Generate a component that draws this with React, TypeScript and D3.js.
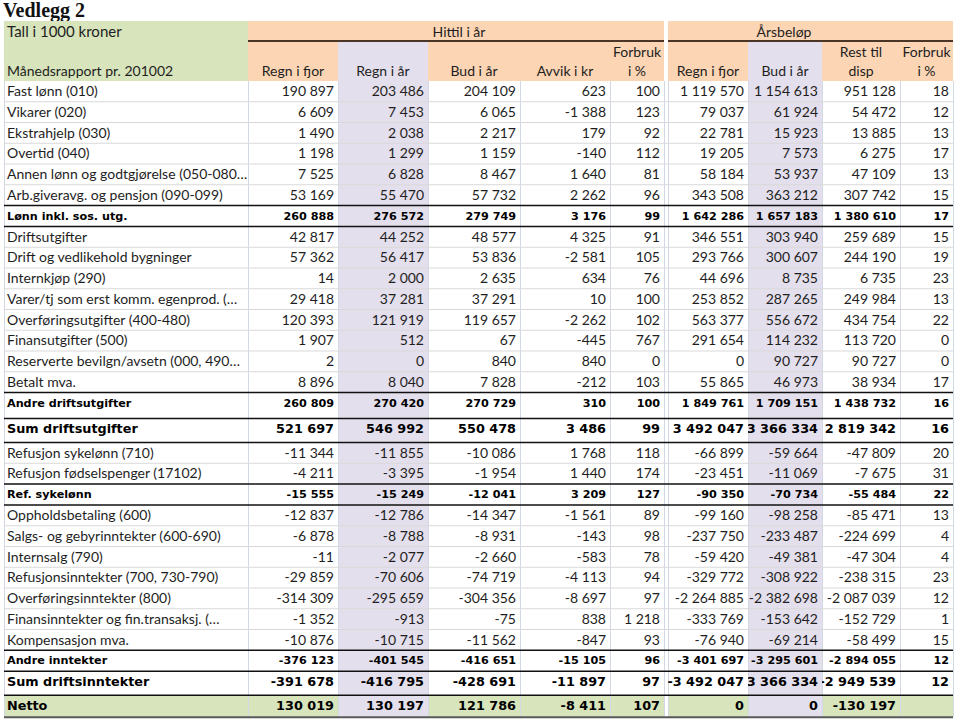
import React from "react";
import * as d3 from "d3";

// ---- data (Tall i 1000 kroner, månedsrapport pr. 201002) ----
const labels = [
  "Fast lønn (010)",
  "Vikarer (020)",
  "Ekstrahjelp (030)",
  "Overtid (040)",
  "Annen lønn og godtgjørelse (050-080…",
  "Arb.giveravg. og pensjon (090-099)",
  "Lønn inkl. sos. utg.",
  "Driftsutgifter",
  "Drift og vedlikehold bygninger",
  "Internkjøp (290)",
  "Varer/tj som erst komm. egenprod. (…",
  "Overføringsutgifter (400-480)",
  "Finansutgifter (500)",
  "Reserverte bevilgn/avsetn (000, 490…",
  "Betalt mva.",
  "Andre driftsutgifter",
  "Sum driftsutgifter",
  "Refusjon sykelønn (710)",
  "Refusjon fødselspenger (17102)",
  "Ref. sykelønn",
  "Oppholdsbetaling (600)",
  "Salgs- og gebyrinntekter (600-690)",
  "Internsalg (790)",
  "Refusjonsinntekter (700, 730-790)",
  "Overføringsinntekter (800)",
  "Finansinntekter og fin.transaksj. (…",
  "Kompensasjon mva.",
  "Andre inntekter",
  "Sum driftsinntekter",
  "Netto",
];

const rowKinds = [
  "item", "item", "item", "item", "item", "item", "sub",
  "item", "item", "item", "item", "item", "item", "item", "item", "subGap",
  "sum",
  "item", "item", "sub",
  "item", "item", "item", "item", "item", "item", "item", "sub",
  "sum",
  "net",
];

// Hittil i år
const regnFjor = [190897, 6609, 1490, 1198, 7525, 53169, 260888, 42817, 57362, 14, 29418, 120393, 1907, 2, 8896, 260809, 521697, -11344, -4211, -15555, -12837, -6878, -11, -29859, -314309, -1352, -10876, -376123, -391678, 130019];
const regnAar = [203486, 7453, 2038, 1299, 6828, 55470, 276572, 44252, 56417, 2000, 37281, 121919, 512, 0, 8040, 270420, 546992, -11855, -3395, -15249, -12786, -8788, -2077, -70606, -295659, -913, -10715, -401545, -416795, 130197];
const budAar = [204109, 6065, 2217, 1159, 8467, 57732, 279749, 48577, 53836, 2635, 37291, 119657, 67, 840, 7828, 270729, 550478, -10086, -1954, -12041, -14347, -8931, -2660, -74719, -304356, -75, -11562, -416651, -428691, 121786];
const avvik = [623, -1388, 179, -140, 1640, 2262, 3176, 4325, -2581, 634, 10, -2262, -445, 840, -212, 310, 3486, 1768, 1440, 3209, -1561, -143, -583, -4113, -8697, 838, -847, -15105, -11897, -8411];
const forbrukHittil = [100, 123, 92, 112, 81, 96, 99, 91, 105, 76, 100, 102, 767, 0, 103, 100, 99, 118, 174, 127, 89, 98, 78, 94, 97, 1218, 93, 96, 97, 107];

// Årsbeløp
const aarRegnFjor = [1119570, 79037, 22781, 19205, 58184, 343508, 1642286, 346551, 293766, 44696, 253852, 563377, 291654, 0, 55865, 1849761, 3492047, -66899, -23451, -90350, -99160, -237750, -59420, -329772, -2264885, -333769, -76940, -3401697, -3492047, 0];
const aarBud = [1154613, 61924, 15923, 7573, 53937, 363212, 1657183, 303940, 300607, 8735, 287265, 556672, 114232, 90727, 46973, 1709151, 3366334, -59664, -11069, -70734, -98258, -233487, -49381, -308922, -2382698, -153642, -69214, -3295601, -3366334, 0];
const restDisp = [951128, 54472, 13885, 6275, 47109, 307742, 1380610, 259689, 244190, 6735, 249984, 434754, 113720, 90727, 38934, 1438732, 2819342, -47809, -7675, -55484, -85471, -224699, -47304, -238315, -2087039, -152729, -58499, -2894055, -2949539, -130197];
const forbrukAar = [18, 12, 13, 17, 13, 15, 17, 15, 19, 23, 13, 22, 0, 0, 17, 16, 16, 20, 31, 22, 13, 4, 4, 23, 12, 1, 15, 12, 12, null];

const groupHeaders = ["Hittil i år", "Årsbeløp"];
const colHeaders = [
  ["Regn i fjor"], ["Regn i år"], ["Bud i år"], ["Avvik i kr"], ["Forbruk", "i %"],
  ["Regn i fjor"], ["Bud i år"], ["Rest til", "disp"], ["Forbruk", "i %"],
];

// ---- layout ----
const W = 960;
const H = 721;
const LEFT = 4;
const COL_W = [244, 90, 90, 92, 90, 54, 4, 80, 74, 78, 53];
const edges = [LEFT, ...Array.from(d3.cumsum(COL_W), (v) => v + LEFT)];
const HEAD_TOP = 21;
const HEAD_MID = 41;
const BODY_TOP = 81;
const ROW_H: Record<string, number> = { item: 20.75, sub: 21, subGap: 26, sum: 24, net: 22 };

const GREEN = "#D8E4BC";
const PEACH = "#FCD5B4";
const LAV = "#E4DFEC";
const GRID = "#D3D9E4";
const TXT = "#1e1e1e";

const fmt = d3
  .formatLocale({ decimal: ",", thousands: "\u00a0", grouping: [3], currency: ["", ""], minus: "-" })
  .format(",d");

const series = [regnFjor, regnAar, budAar, avvik, forbrukHittil, null, aarRegnFjor, aarBud, restDisp, forbrukAar];
const lavenderCols = new Set([2, 8]);

const FONT = "Lato, 'Open Sans', sans-serif";
const BOLD = "'DejaVu Sans', Verdana, sans-serif";

function styleFor(kind: string) {
  if (kind === "item") return { family: FONT, size: 14, weight: 400, cap: 0.72 };
  if (kind === "sub" || kind === "subGap") return { family: BOLD, size: 11.2, weight: 700, cap: 0.73 };
  return { family: BOLD, size: 12.8, weight: 700, cap: 0.73 };
}

export default function App() {
  const heights = rowKinds.map((k) => ROW_H[k]);
  const tops = [BODY_TOP, ...Array.from(d3.cumsum(heights), (v) => v + BODY_TOP)];
  const bottom = tops[tops.length - 1];

  const valueCols = series
    .map((s, i) => ({ s, col: i + 1 }))
    .filter((d) => d.s !== null) as { s: (number | null)[]; col: number }[];

  const blackLines: number[] = [];
  const lightLines: number[] = [];
  rowKinds.forEach((k, i) => {
    if (i === 0) return;
    const prev = rowKinds[i - 1];
    if (k !== "item" || prev !== "item") blackLines.push(tops[i]);
    else lightLines.push(tops[i]);
  });

  const hx0 = edges[1];
  const hx1 = edges[6];
  const ax0 = edges[7];
  const ax1 = edges[11];
  const netRow = rowKinds.indexOf("net");

  return (
    <svg
      width={W}
      height={H}
      style={{ position: "absolute", left: 0, top: 0, background: "#fff" }}
    >
      <defs>
        {valueCols.map(({ col }) => (
          <clipPath id={`clip-${col}`} key={col}>
            <rect x={edges[col]} y={BODY_TOP} width={edges[col + 1] - edges[col]} height={bottom - BODY_TOP} />
          </clipPath>
        ))}
      </defs>

      <text x={3} y={17} fontFamily="'Liberation Serif', 'Times New Roman', serif" fontWeight={700} fontSize={20} fill="#111">
        Vedlegg 2
      </text>

      {/* header fills */}
      <rect x={LEFT} y={HEAD_TOP} width={edges[1] - LEFT} height={BODY_TOP - HEAD_TOP} fill={GREEN} />
      <rect x={hx0} y={HEAD_TOP} width={hx1 - hx0} height={BODY_TOP - HEAD_TOP} fill={PEACH} />
      <rect x={ax0} y={HEAD_TOP} width={ax1 - ax0} height={BODY_TOP - HEAD_TOP} fill={PEACH} />

      {/* lavender columns */}
      {[...lavenderCols].map((c) => (
        <rect key={c} x={edges[c]} y={HEAD_MID + 1} width={edges[c + 1] - edges[c]} height={bottom - HEAD_MID - 1} fill={LAV} />
      ))}

      {/* netto row fill */}
      {edges.slice(0, -1).map((x, c) =>
        c === 6 || lavenderCols.has(c) ? null : (
          <rect key={`n${c}`} x={x} y={tops[netRow]} width={edges[c + 1] - x} height={heights[netRow]} fill={GREEN} />
        )
      )}

      {/* grid */}
      {edges.map((x, i) => (
        <line key={`v${i}`} x1={x + 0.5} x2={x + 0.5} y1={BODY_TOP} y2={bottom} stroke={GRID} strokeWidth={1} />
      ))}
      {lightLines.map((y, i) => (
        <line key={`h${i}`} x1={LEFT} x2={edges[11]} y1={y} y2={y} stroke="#D9D9D9" strokeWidth={1} />
      ))}
      {blackLines.map((y, i) => (
        <line key={`b${i}`} x1={LEFT} x2={edges[11]} y1={y} y2={y} stroke="#111" strokeWidth={1.7} />
      ))}
      <line x1={LEFT} x2={edges[11]} y1={bottom} y2={bottom} stroke="#5a5a5a" strokeWidth={2.2} />

      {/* group header lines */}
      <line x1={hx0} x2={hx1} y1={HEAD_MID} y2={HEAD_MID} stroke="#4a3526" strokeWidth={2} />
      <line x1={ax0} x2={ax1} y1={HEAD_MID} y2={HEAD_MID} stroke="#4a3526" strokeWidth={2} />

      {/* header text */}
      <g fontFamily={FONT} fontSize={14} fill={TXT}>
        <text x={LEFT + 3} y={36.5} fontSize={15}>Tall i 1000 kroner</text>
        <text x={LEFT + 3} y={75.5}>Månedsrapport pr. 201002</text>
        <text x={(hx0 + hx1) / 2 + 3} y={36.5} textAnchor="middle">{groupHeaders[0]}</text>
        <text x={(ax0 + edges[10]) / 2} y={36.5} textAnchor="middle">{groupHeaders[1]}</text>
        {valueCols.map(({ col }, i) => {
          const lines = colHeaders[i];
          const cx = (edges[col] + edges[col + 1]) / 2;
          return lines.map((t, j) => (
            <text key={`${col}-${j}`} x={cx} y={75.5 - (lines.length - 1 - j) * 18.5} textAnchor="middle">
              {t}
            </text>
          ));
        })}
      </g>

      {/* body text */}
      {rowKinds.map((kind, r) => {
        const st = styleFor(kind);
        const y = tops[r] + 10 + (st.cap * st.size) / 2;
        return (
          <g key={r} fontFamily={st.family} fontSize={st.size} fontWeight={st.weight} fill={kind === "item" ? TXT : "#000"}>
            <text x={LEFT + 3} y={y}>{labels[r]}</text>
            {valueCols.map(({ s, col }) => {
              const v = s[r];
              if (v === null || v === undefined) return null;
              return (
                <text key={col} x={edges[col + 1] - 4} y={y} textAnchor="end" clipPath={`url(#clip-${col})`}>
                  {fmt(v)}
                </text>
              );
            })}
          </g>
        );
      })}
    </svg>
  );
}
